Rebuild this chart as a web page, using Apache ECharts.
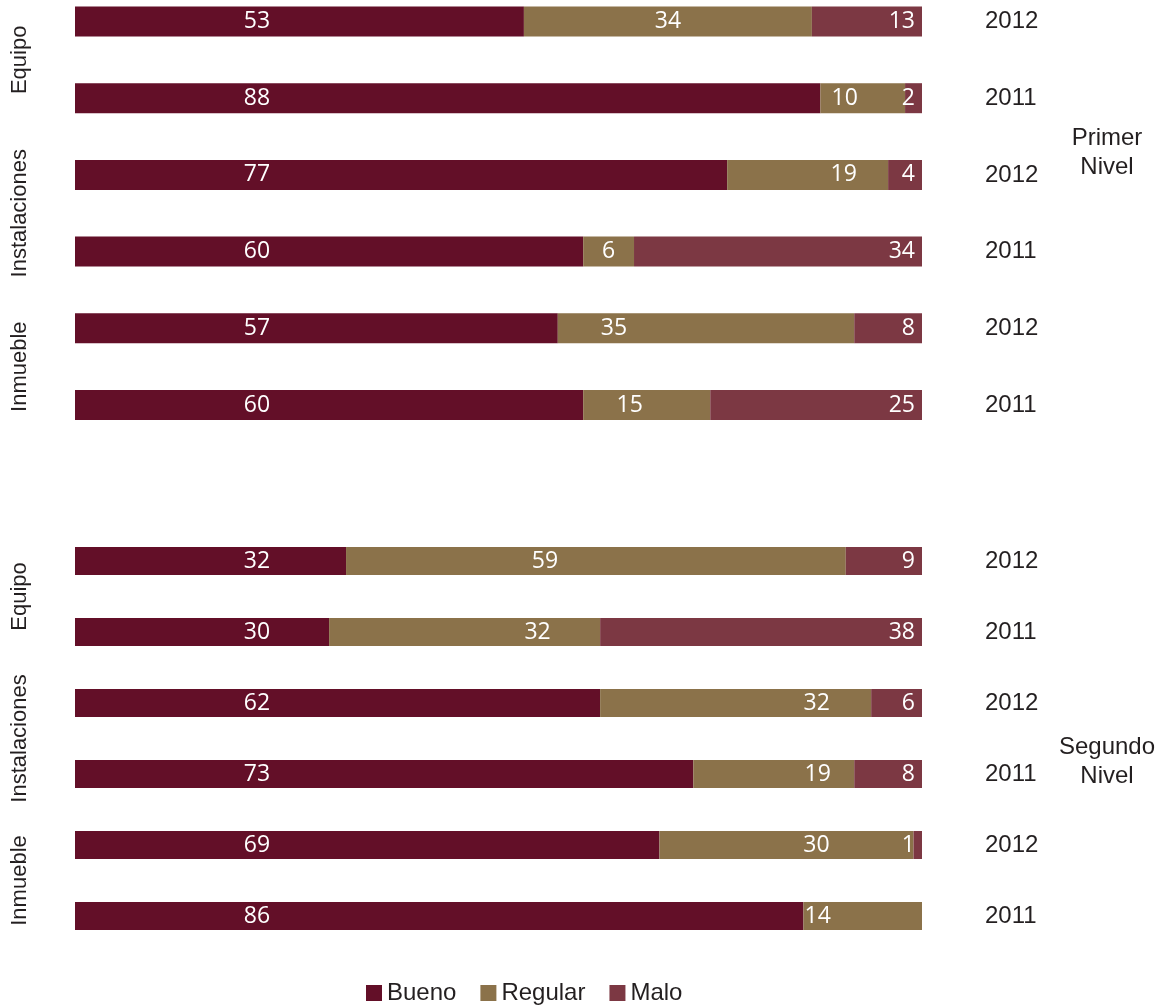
<!DOCTYPE html>
<html><head><meta charset="utf-8">
<script src="https://cdn.jsdelivr.net/npm/echarts@6/dist/echarts.min.js"></script>
<style>html,body{margin:0;padding:0;background:#fff}#c{width:1164px;height:1006px}</style>
</head><body><div id="c"></div>
<script>
const groups = ['Equipo', 'Instalaciones', 'Inmueble'];
const years = ['2012', '2011', '2012', '2011', '2012', '2011'];
const seriesNames = ['Bueno', 'Regular', 'Malo'];
const panelTitles = ['Primer\nNivel', 'Segundo\nNivel'];

const buenoPrimer = [53, 88, 77, 60, 57, 60];
const regularPrimer = [34, 10, 19, 6, 35, 15];
const maloPrimer = [13, 2, 4, 34, 8, 25];

const buenoSegundo = [32, 30, 62, 73, 69, 86];
const regularSegundo = [59, 32, 32, 19, 30, 14];
const maloSegundo = [9, 38, 6, 8, 1, 0];

// label horizontal shifts (style only) for the Regular labels, as placed in the original
const regularShiftPrimer = [0, -18, 36, 0, -92, -17];
const regularShiftSegundo = [-51, 73, 81, 44, 30, -45];

const colors = ['#630F28', '#8B724A', '#7C3843'];
const txt = '#231f20';
const labelFont = { color: '#fff', fontSize: 23, fontFamily: 'Open Sans' };

const chart = echarts.init(document.getElementById('c'));

function grid(top, height) {
  return { left: 75, right: 242, top: top, height: height, containLabel: false, outerBoundsMode: 'none' };
}
function groupAxis(gi) {
  return {
    type: 'category', gridIndex: gi, position: 'left', inverse: true, data: groups,
    axisLine: { show: false }, axisTick: { show: false },
    axisLabel: { interval: 0, hideOverlap: false, rotate: 90, margin: 44, fontSize: 22, color: txt, fontFamily: 'Liberation Sans' }
  };
}
function yearAxis(gi) {
  return {
    type: 'category', gridIndex: gi, position: 'right', inverse: true, data: years,
    axisLine: { show: false }, axisTick: { show: false },
    axisLabel: { interval: 0, margin: 63, fontSize: 24, color: txt, fontFamily: 'Liberation Sans', align: 'left' }
  };
}
function xAxis(gi) {
  return { type: 'value', gridIndex: gi, min: 0, max: 100, show: false };
}
function makeSeries(gi, yIdx, bueno, regular, malo, shifts, bw) {
  return [
    {
      name: 'Bueno', type: 'bar', stack: 's' + gi, xAxisIndex: gi, yAxisIndex: yIdx, barWidth: bw,
      itemStyle: { color: colors[0] },
      label: Object.assign({ show: true, position: [182, '50%'], align: 'center', verticalAlign: 'middle' }, labelFont),
      data: bueno
    },
    {
      name: 'Regular', type: 'bar', stack: 's' + gi, xAxisIndex: gi, yAxisIndex: yIdx, barWidth: bw,
      itemStyle: { color: colors[1] },
      data: regular.map((v, i) => ({
        value: v,
        label: Object.assign({ show: true, position: 'inside', offset: [shifts[i], 0] }, labelFont)
      }))
    },
    {
      name: 'Malo', type: 'bar', stack: 's' + gi, xAxisIndex: gi, yAxisIndex: yIdx, barWidth: bw,
      itemStyle: { color: colors[2] },
      label: Object.assign({ show: true, position: 'insideRight', distance: 7,
        formatter: p => (p.value ? String(p.value) : '') }, labelFont),
      data: malo
    }
  ];
}

const titleStyle = { fontSize: 24, fontWeight: 'normal', color: txt, fontFamily: 'Liberation Sans', lineHeight: 29, align: 'center' };

chart.setOption({
  animation: false,
  color: colors,
  grid: [grid(-16.85, 460.2), grid(525.5, 426)],
  xAxis: [xAxis(0), xAxis(1)],
  yAxis: [groupAxis(0), yearAxis(0), groupAxis(1), yearAxis(1)],
  title: [
    { text: panelTitles[0], left: 1102, top: 119, textAlign: 'center', textStyle: titleStyle },
    { text: panelTitles[1], left: 1102, top: 728, textAlign: 'center', textStyle: titleStyle }
  ],
  legend: {
    data: seriesNames, left: 361, top: 976, itemWidth: 16, itemHeight: 16, itemGap: 24,
    icon: 'rect', textStyle: { fontSize: 24, color: txt, fontFamily: 'Liberation Sans' }
  },
  series: [].concat(
    makeSeries(0, 1, buenoPrimer, regularPrimer, maloPrimer, regularShiftPrimer, 30),
    makeSeries(1, 3, buenoSegundo, regularSegundo, maloSegundo, regularShiftSegundo, 28)
  )
});
</script>
</body></html>
